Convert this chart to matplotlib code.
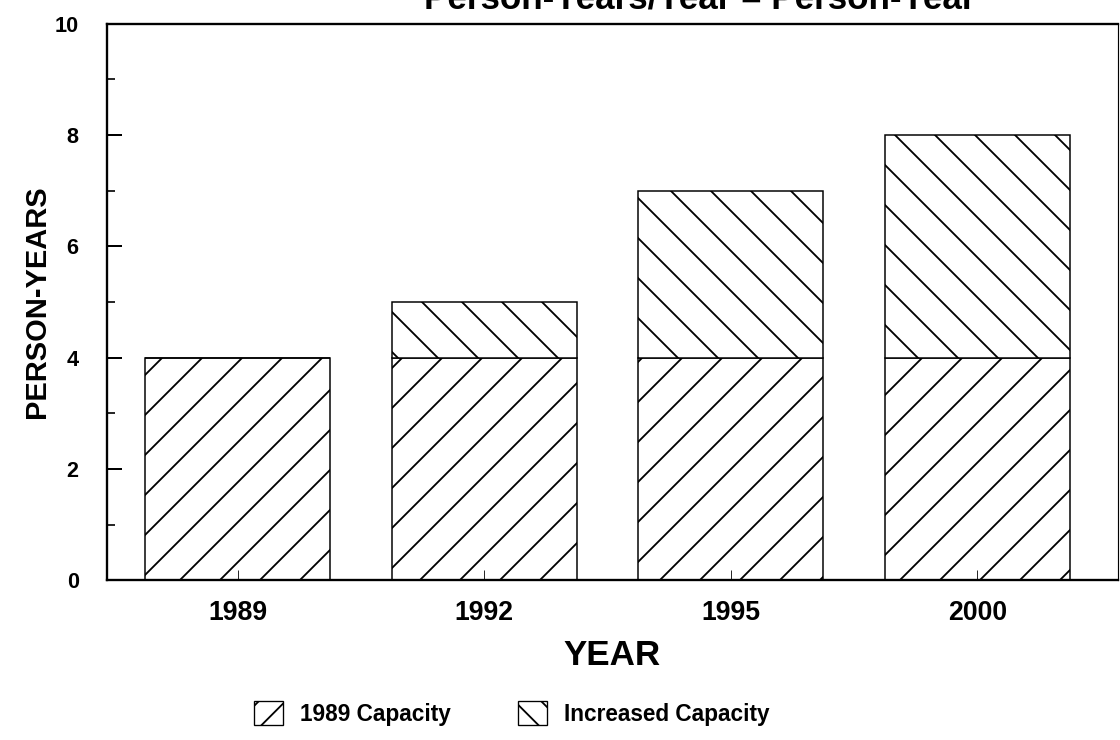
import matplotlib
matplotlib.use("Agg")
import matplotlib.pyplot as plt
from matplotlib.ticker import MultipleLocator
from matplotlib.patches import Patch

# values
years = ["1989", "1992", "1995", "2000"]
base_capacity = [4.0, 4.0, 4.0, 4.0]
increased_capacity = [0.0, 1.0, 3.0, 4.0]

plt.rcParams["font.family"] = ["Liberation Sans", "DejaVu Sans"]
plt.rcParams["font.weight"] = "bold"
plt.rcParams["hatch.linewidth"] = 0.55

# high dpi so the hatch lines are as widely spaced as in the scan
DPI = 240
fig = plt.figure(figsize=(1120 / DPI, 740 / DPI), dpi=DPI)
ax = fig.add_axes([0.0955, 0.216, 0.9025, 0.752])

x = list(range(len(years)))
ax.bar(x, base_capacity, width=0.75, color="white", edgecolor="black",
       linewidth=0.45, hatch="//")
ax.bar(x, increased_capacity, width=0.75, bottom=base_capacity, color="white",
       edgecolor="black", linewidth=0.45, hatch="\\\\")

ax.set_xlim(-0.53, 3.57)
ax.set_ylim(0, 10)
ax.set_xticks(x)
ax.set_xticklabels(years, fontsize=8, fontweight="bold")
ax.yaxis.set_major_locator(MultipleLocator(2))
ax.yaxis.set_minor_locator(MultipleLocator(1))
ax.tick_params(axis="y", which="major", direction="in", length=4.5, width=0.6,
               pad=8.5, labelsize=6.5)
ax.tick_params(axis="y", which="minor", direction="in", length=2.4, width=0.5)
ax.tick_params(axis="x", direction="in", length=3, width=0.25, pad=6)
for lab in ax.get_yticklabels():
    lab.set_fontweight("bold")

for side in ["left", "top", "bottom", "right"]:
    ax.spines[side].set_linewidth(0.7)
ax.spines["right"].set_linewidth(0.35)

ax.set_xlabel("YEAR", fontsize=10.5, fontweight="bold", labelpad=4)
ax.set_ylabel("PERSON-YEARS", fontsize=8.7, fontweight="bold", labelpad=1)

# title only partly visible at the top edge of the scan
fig.text(0.625, 0.988, "Person-Years/Year = Person-Year", ha="center",
         va="baseline", fontsize=10.5, fontweight="bold")

handles = [Patch(facecolor="white", edgecolor="black", linewidth=0.4, hatch="///"),
           Patch(facecolor="white", edgecolor="black", linewidth=0.4, hatch="\\\\\\")]
fig.legend(handles, ["1989 Capacity", "Increased Capacity"], loc="center",
           bbox_to_anchor=(0.457, 0.036), ncol=2, frameon=False, fontsize=6.8,
           handlelength=1.25, handleheight=1.25, handletextpad=0.75,
           columnspacing=3.0)

fig.savefig("out.png", dpi=DPI)
